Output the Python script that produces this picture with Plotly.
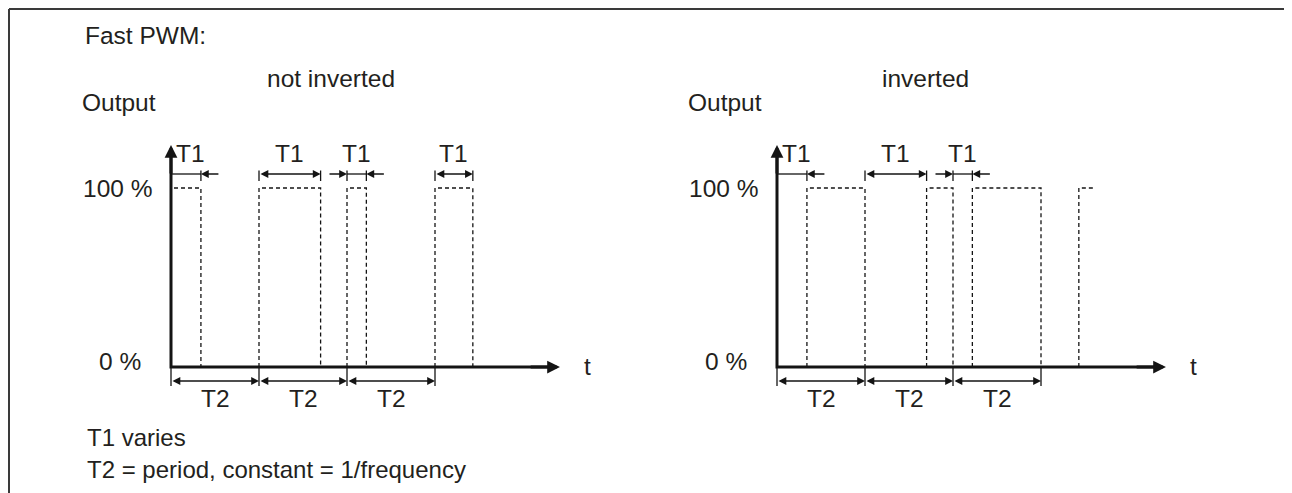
import plotly.graph_objects as go

# ---------------- data (time in units of the period T2; level 0 = 0 %, 1 = 100 %) -------------
period_starts = [0, 1, 2, 3]            # start of each PWM period
t1_widths = [0.34, 0.70, 0.22, 0.43]    # T1 (varies) in each period
t2_period = 1.0                         # T2 = constant period
inv_last_visible_end = 3.62             # inverted: visible end of the last high level
n_t2_marked = 3                         # number of T2 dimension marks
n_t1_marked_inverted = 3                # number of T1 marks on the inverted diagram
level_values = [0, 1]
level_labels = ["0 %", "100 %"]
panel_titles = ["not inverted", "inverted"]
y_axis_title = "Output"
x_axis_title = "t"
heading = "Fast PWM:"
notes = ["T1 varies", "T2 = period, constant = 1/frequency"]
t1_label = "T1"
t2_label = "T2"
axis_x_end = 4.42                       # time axis extent (arrow tip)
axis_y_end = 1.24                       # output axis extent (arrow tip)

# ---------------- layout constants (page pixels; the page body has an 8 px margin) ----------
PAGE_W, PAGE_H = 1292, 493
OFF = 8
W, H = PAGE_W - OFF, PAGE_H - OFF

def fx(px):   # page x pixel -> figure x pixel
    return px - OFF

def fy(py):   # page y pixel -> figure y pixel
    return py - OFF

ORIGINS_PX = [fx(171), fx(777)]        # x pixel of the origin of each diagram
PX_PER_T = 88.0
Y0_PX, Y1_PX = fy(367.0), fy(188.0)
U = Y0_PX - Y1_PX                       # pixels per 100 %
INK = "#141414"
TXT = "#231f20"
FONT = "Liberation Sans, Arial, Helvetica, sans-serif"
FS = 24.5
FS_NOTE = 24

def dy(px):
    return px / U

def paper_x(px):
    return fx(px) / W

def paper_y(py):
    return 1 - fy(py) / H

fig = go.Figure()
annotations = []
shapes = []

xrefs = ["x", "x2"]

def add_line(xs, ys, xr, dash=None, width=1.3):
    fig.add_trace(go.Scatter(
        x=xs, y=ys, mode="lines", xaxis=xr, yaxis="y",
        line=dict(color=INK, width=width, dash=dash),
        hoverinfo="skip", showlegend=False, connectgaps=False))

def arrow(xr, x, y, ax, ay, width=1.3, size=1.2, both=False):
    a = dict(xref=xr, yref="y", axref=xr, ayref="y", x=x, y=y, ax=ax, ay=ay,
             text="", showarrow=True, arrowhead=2, arrowsize=size, arrowwidth=width,
             arrowcolor=INK, standoff=0, startstandoff=0)
    if both:
        a.update(arrowside="end+start", startarrowhead=2, startarrowsize=size)
    annotations.append(a)

def text(t, size=FS, **kw):
    a = dict(text=t, showarrow=False, font=dict(family=FONT, size=size, color=TXT))
    a.update(kw)
    annotations.append(a)

T1_ARROW_Y = 1 + dy(14)
T1_TICK = (1 + dy(7), 1 + dy(17.5))
T2_ARROW_Y = -dy(14)
T2_TICK = (-dy(1), -dy(19))
OUT_LEN = 19 / PX_PER_T

def t1_marks(xr, spans):
    tx, ty = [], []
    for i, (s, e) in enumerate(spans):
        if s > 0:
            tx += [s, s, None]; ty += [T1_TICK[0], T1_TICK[1], None]
        tx += [e, e, None]; ty += [T1_TICK[0], T1_TICK[1], None]
        if (e - s) >= 0.4:
            arrow(xr, e, T1_ARROW_Y, s, T1_ARROW_Y, both=True)
        else:
            tx += [s, e, None]; ty += [T1_ARROW_Y, T1_ARROW_Y, None]
            arrow(xr, e, T1_ARROW_Y, e + OUT_LEN, T1_ARROW_Y)
            if s > 0:
                arrow(xr, s, T1_ARROW_Y, s - OUT_LEN, T1_ARROW_Y)
        text(t1_label, xref=xr, yref="y", x=(s + e) / 2, y=1, yshift=34.5,
             xshift=5 if s == 0 else 0, xanchor="center", yanchor="middle")
    add_line(tx, ty, xr)

for p, xr in enumerate(xrefs):
    # ---- signal (dashed) ----
    sx, sy = [], []
    if p == 0:
        for s, w in zip(period_starts, t1_widths):
            e = s + w
            sx += [s, s, e, e, None]; sy += [0, 1, 1, 0, None]
    else:
        for k, (s, w) in enumerate(zip(period_starts, t1_widths)):
            rise = s + w
            if k < len(period_starts) - 1:
                fall = s + t2_period
                sx += [rise, rise, fall, fall, None]; sy += [0, 1, 1, 0, None]
            else:
                sx += [rise, rise, inv_last_visible_end, None]; sy += [0, 1, 1, None]
    add_line(sx, sy, xr, dash="4px,3px", width=1.3)

    # ---- T1 dimension marks ----
    n = len(period_starts) if p == 0 else n_t1_marked_inverted
    spans = [(period_starts[k], period_starts[k] + t1_widths[k]) for k in range(n)]
    t1_marks(xr, spans)

    # ---- T2 dimension marks ----
    tx, ty = [], []
    for k in range(n_t2_marked + 1):
        b = k * t2_period
        tx += [b, b, None]; ty += [T2_TICK[0], T2_TICK[1], None]
    add_line(tx, ty, xr)
    for k in range(n_t2_marked):
        s, e = k * t2_period, (k + 1) * t2_period
        arrow(xr, e, T2_ARROW_Y, s, T2_ARROW_Y, both=True)
        text(t2_label, xref=xr, yref="y", x=(s + e) / 2, y=0, yshift=-31.5,
             xanchor="center", yanchor="middle")

    # ---- axes with arrow heads ----
    add_line([0, 0, axis_x_end - 0.1], [axis_y_end - dy(9), 0, 0], xr, width=3)
    arrow(xr, 0, axis_y_end, 0, axis_y_end - dy(30), width=3, size=0.85)
    arrow(xr, axis_x_end, 0, axis_x_end - 0.35, 0, width=3, size=0.85)

    # ---- axis texts ----
    for v, lab in zip(level_values, level_labels):
        text(lab, xref=xr, yref="y", x=0, y=v, xanchor="right", yanchor="middle",
             xshift=-17 if v == 1 else -28, yshift=6 if v == 0 else 0)
    text(y_axis_title, xref=xr, yref="y", x=0, y=1, xanchor="left", yanchor="middle",
         xshift=-91, yshift=86)
    text(x_axis_title, xref=xr, yref="y", x=axis_x_end, y=0, xanchor="center",
         yanchor="middle", xshift=28, yshift=1)

# ---- titles and notes (paper coordinates) ----
text(heading, xref="paper", yref="paper", x=paper_x(83), y=paper_y(35),
     xanchor="left", yanchor="middle")
text(panel_titles[0], xref="paper", yref="paper", x=paper_x(331), y=paper_y(78.5),
     xanchor="center", yanchor="middle")
text(panel_titles[1], xref="paper", yref="paper", x=paper_x(925), y=paper_y(78.5),
     xanchor="center", yanchor="middle")
text(notes[0], size=FS_NOTE, xref="paper", yref="paper", x=paper_x(85), y=paper_y(437.5),
     xanchor="left", yanchor="middle")
text(notes[1], size=FS_NOTE, xref="paper", yref="paper", x=paper_x(85), y=paper_y(469.5),
     xanchor="left", yanchor="middle")

# ---- frame ----
FR = "#3a3a3a"
shapes += [
    dict(type="line", xref="paper", yref="paper", x0=paper_x(9), x1=paper_x(9),
         y0=-0.05, y1=paper_y(9), line=dict(color=FR, width=2)),
    dict(type="line", xref="paper", yref="paper", x0=paper_x(9), x1=paper_x(1290),
         y0=paper_y(9), y1=paper_y(9), line=dict(color=FR, width=2)),
    dict(type="line", xref="paper", yref="paper", x0=paper_x(1290), x1=paper_x(1290),
         y0=-0.05, y1=paper_y(9), line=dict(color=FR, width=2.5)),
]

ax_common = dict(visible=False, showgrid=False, zeroline=False, fixedrange=True, domain=[0, 1])
fig.update_layout(
    width=W, height=H, margin=dict(l=0, r=0, t=0, b=0),
    paper_bgcolor="white", plot_bgcolor="white", showlegend=False,
    xaxis=dict(range=[-ORIGINS_PX[0] / PX_PER_T, (W - ORIGINS_PX[0]) / PX_PER_T], **ax_common),
    xaxis2=dict(range=[-ORIGINS_PX[1] / PX_PER_T, (W - ORIGINS_PX[1]) / PX_PER_T],
                overlaying="x", anchor="y", **ax_common),
    yaxis=dict(range=[(Y0_PX - H) / U, Y0_PX / U], **ax_common),
    annotations=annotations, shapes=shapes,
)

fig.write_html("out.html", config={"displayModeBar": False})
